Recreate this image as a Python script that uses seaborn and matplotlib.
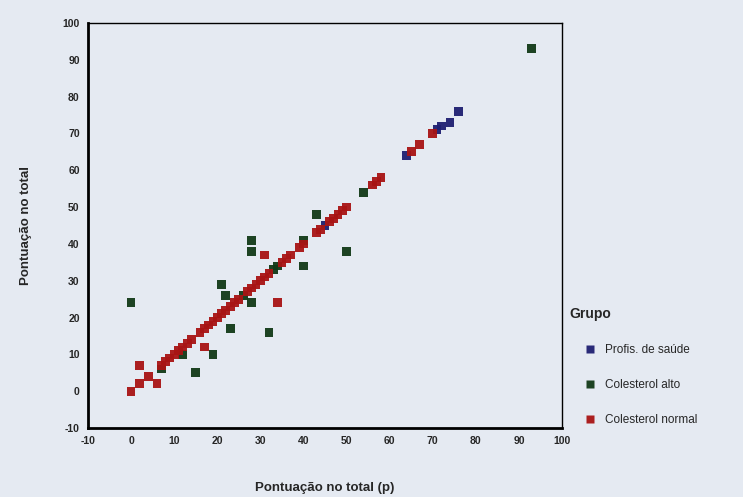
import matplotlib
matplotlib.use("Agg")
import matplotlib.pyplot as plt
import seaborn as sns
import pandas as pd

# ---- data ----
groups = ["Profis. de saúde", "Colesterol alto", "Colesterol normal"]

normal_x = [0, 2, 2, 4, 6, 7, 8, 9, 10, 11, 12, 13, 14, 16, 17, 17, 18, 19, 20, 21, 22, 23, 24, 25,
            27, 28, 29, 30, 31, 31, 32, 34, 35, 36, 37, 39, 40, 43, 44, 46, 47, 48, 49, 50,
            56, 57, 58, 65, 67, 70]
normal_y = [0, 2, 7, 4, 2, 7, 8, 9, 10, 11, 12, 13, 14, 16, 17, 12, 18, 19, 20, 21, 22, 23, 24, 25,
            27, 28, 29, 30, 31, 37, 32, 24, 35, 36, 37, 39, 40, 43, 44, 46, 47, 48, 49, 50,
            56, 57, 58, 65, 67, 70]

alto_x = [0, 7, 12, 15, 19, 21, 22, 23, 26, 28, 28, 28, 32, 33, 34, 40, 40, 43, 50, 54, 93]
alto_y = [24, 6, 10, 5, 10, 29, 26, 17, 26, 41, 38, 24, 16, 33, 34, 41, 34, 48, 38, 54, 93]

saude_x = [45, 64, 71, 72, 74, 76]
saude_y = [45, 64, 71, 72, 73, 76]

x_ticks = [-10, 0, 10, 20, 30, 40, 50, 60, 70, 80, 90, 100]
y_ticks = [-10, 0, 10, 20, 30, 40, 50, 60, 70, 80, 90, 100]

colors = ["#1f1f72", "#123a18", "#a81414"]

df = pd.DataFrame({
    "x": saude_x + alto_x + normal_x,
    "y": saude_y + alto_y + normal_y,
    "Grupo": [groups[0]] * len(saude_x) + [groups[1]] * len(alto_x) + [groups[2]] * len(normal_x),
})

sns.set_style("white")
plt.rcParams["font.family"] = ["Liberation Sans", "DejaVu Sans"]

bg = "#e5eaf2"
fig = plt.figure(figsize=(7.43, 4.97), dpi=100, facecolor=bg)
ax = fig.add_axes([88 / 743, 1 - 428 / 497, (562 - 88) / 743, (428 - 23) / 497])
ax.set_facecolor(bg)

sns.scatterplot(data=df, x="x", y="y", hue="Grupo", hue_order=groups, palette=colors,
                marker="s", s=40, edgecolor="none", alpha=0.95, ax=ax)

ax.set_xlim(-10, 100)
ax.set_ylim(-10, 100)
ax.set_xticks(x_ticks)
ax.set_yticks(y_ticks)
ax.set_xticklabels([str(t) for t in x_ticks], fontsize=7.5, fontweight="bold")
ax.set_yticklabels([str(t) for t in y_ticks], fontsize=7.5, fontweight="bold")
ax.tick_params(direction="out", length=3, width=2.2, color="black", pad=3)

for side in ["left", "bottom"]:
    ax.spines[side].set_linewidth(2.0)
    ax.spines[side].set_color("black")
for side in ["top", "right"]:
    ax.spines[side].set_linewidth(1.0)
    ax.spines[side].set_color("black")

ax.set_xlabel("Pontuação no total (p)", fontsize=9.5, fontweight="bold", labelpad=26)
ax.set_ylabel("Pontuação no total", fontsize=9.5, fontweight="bold", labelpad=22)

sns.move_legend(ax, loc="upper left", bbox_to_anchor=(0.993, 0.325), frameon=False,
                title="Grupo", fontsize=8.5, title_fontsize=10, labelspacing=1.95,
                handlelength=3.5, handletextpad=-0.5, markerscale=0.8)
leg = ax.get_legend()
leg._legend_box.align = "left"
leg.get_title().set_fontweight("bold")

fig.savefig("out.png", dpi=100, facecolor=bg)
